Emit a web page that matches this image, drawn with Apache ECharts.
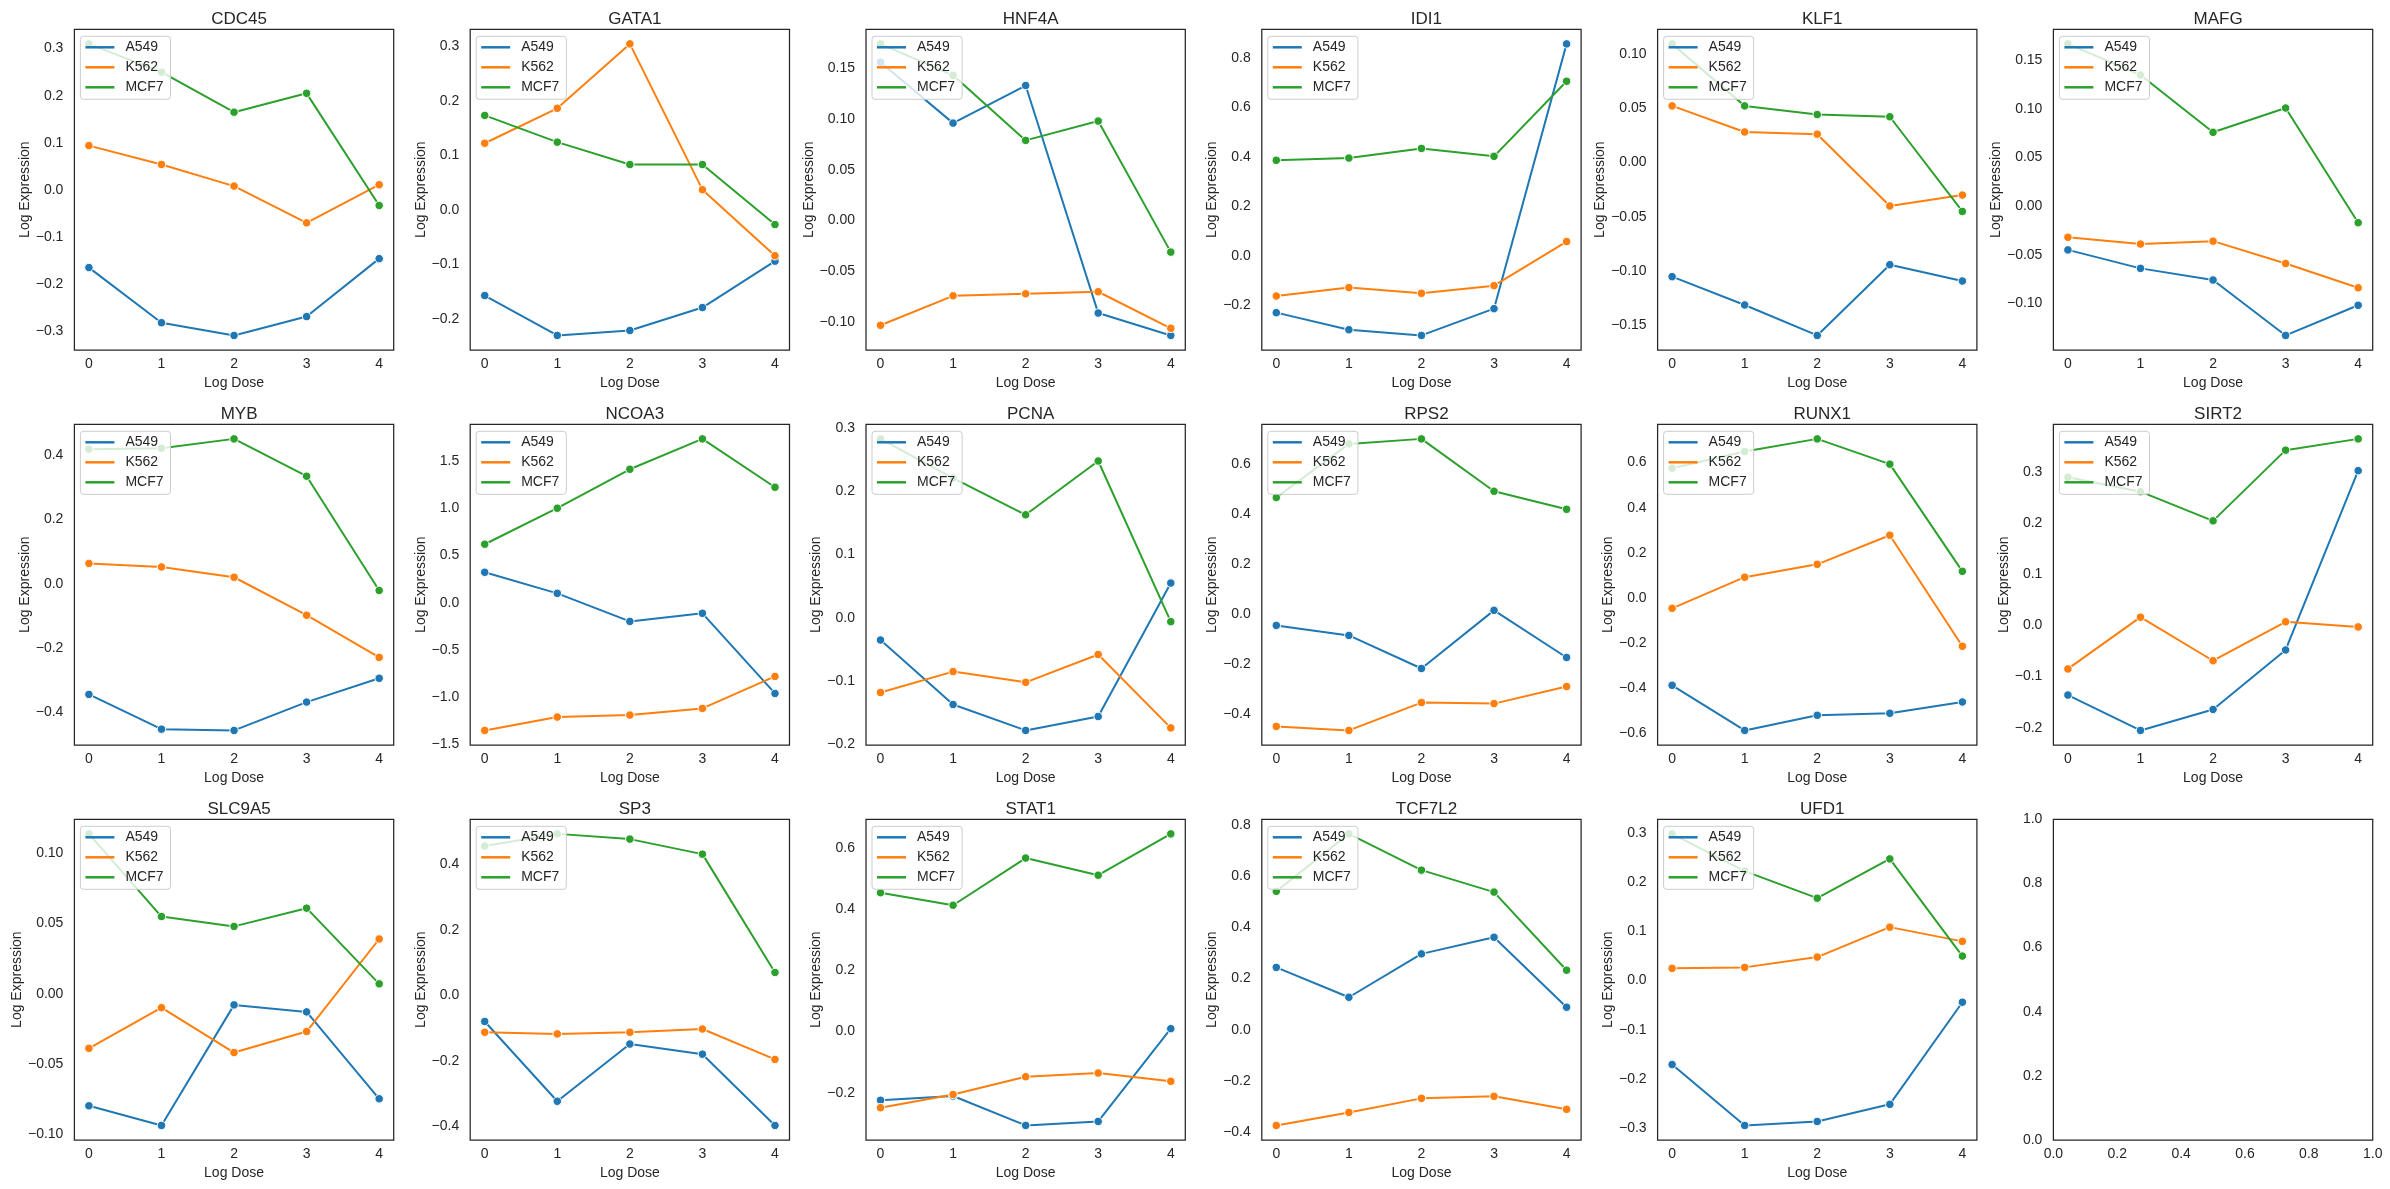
<!DOCTYPE html>
<html>
<head>
<meta charset="utf-8">
<script src="https://cdn.jsdelivr.net/npm/echarts@6/dist/echarts.min.js"></script>
<style>
  html, body { margin: 0; padding: 0; background: #ffffff; }
  #chart { width: 2390px; height: 1189px; }
</style>
</head>
<body>
<div id="chart"></div>
<script>
// ---------------- DATA ----------------
const doses = [0, 1, 2, 3, 4];
const cellLines = ['A549', 'K562', 'MCF7'];
const genes = ['CDC45', 'GATA1', 'HNF4A', 'IDI1', 'KLF1', 'MAFG',
               'MYB', 'NCOA3', 'PCNA', 'RPS2', 'RUNX1', 'SIRT2',
               'SLC9A5', 'SP3', 'STAT1', 'TCF7L2', 'UFD1'];

// log expression per gene (same order as genes), values at doses 0..4
const A549 = [
  [-0.165, -0.282, -0.309, -0.269, -0.146], // CDC45
  [-0.157, -0.230, -0.221, -0.179, -0.094], // GATA1
  [ 0.156,  0.096,  0.133, -0.091, -0.113], // HNF4A
  [-0.229, -0.298, -0.321, -0.213,  0.856], // IDI1
  [-0.105, -0.131, -0.159, -0.094, -0.109], // KLF1
  [-0.045, -0.064, -0.076, -0.133, -0.102], // MAFG
  [-0.344, -0.452, -0.456, -0.368, -0.294], // MYB
  [ 0.323,  0.099, -0.199, -0.113, -0.965], // NCOA3
  [-0.035, -0.137, -0.178, -0.156,  0.055], // PCNA
  [-0.044, -0.084, -0.216,  0.016, -0.172], // RPS2
  [-0.387, -0.587, -0.520, -0.511, -0.461], // RUNX1
  [-0.136, -0.205, -0.164, -0.048,  0.302], // SIRT2
  [-0.080, -0.094, -0.008, -0.013, -0.075], // SLC9A5
  [-0.080, -0.324, -0.149, -0.180, -0.398], // SP3
  [-0.225, -0.211, -0.307, -0.294,  0.009], // STAT1
  [ 0.244,  0.127,  0.297,  0.362,  0.088], // TCF7L2
  [-0.171, -0.295, -0.287, -0.252, -0.044]  // UFD1
];
const K562 = [
  [ 0.094,  0.054,  0.008, -0.070,  0.011],
  [ 0.122,  0.186,  0.304,  0.037, -0.084],
  [-0.103, -0.074, -0.072, -0.070, -0.106],
  [-0.162, -0.128, -0.151, -0.120,  0.058],
  [ 0.052,  0.028,  0.026, -0.040, -0.030],
  [-0.032, -0.039, -0.036, -0.059, -0.084],
  [ 0.063,  0.052,  0.020, -0.098, -0.229],
  [-1.358, -1.216, -1.195, -1.124, -0.784],
  [-0.118, -0.085, -0.102, -0.058, -0.174],
  [-0.447, -0.463, -0.352, -0.356, -0.288],
  [-0.046,  0.092,  0.149,  0.278, -0.214],
  [-0.085,  0.016, -0.069,  0.007, -0.003],
  [-0.039, -0.010, -0.042, -0.027,  0.039],
  [-0.113, -0.118, -0.113, -0.103, -0.196],
  [-0.249, -0.206, -0.148, -0.136, -0.163],
  [-0.375, -0.324, -0.269, -0.261, -0.312],
  [ 0.025,  0.027,  0.048,  0.109,  0.080]
];
const MCF7 = [
  [ 0.310,  0.250,  0.165,  0.205, -0.033],
  [ 0.173,  0.124,  0.083,  0.083, -0.027],
  [ 0.174,  0.143,  0.079,  0.098, -0.031],
  [ 0.386,  0.395,  0.434,  0.402,  0.705],
  [ 0.109,  0.052,  0.044,  0.042, -0.045],
  [ 0.167,  0.135,  0.076,  0.101, -0.017],
  [ 0.418,  0.421,  0.450,  0.334, -0.021],
  [ 0.621,  1.004,  1.418,  1.741,  1.227],
  [ 0.283,  0.221,  0.163,  0.248, -0.006],
  [ 0.466,  0.680,  0.700,  0.491,  0.419],
  [ 0.575,  0.649,  0.705,  0.593,  0.118],
  [ 0.289,  0.261,  0.204,  0.342,  0.364],
  [ 0.114,  0.055,  0.048,  0.061,  0.007],
  [ 0.457,  0.494,  0.478,  0.432,  0.070],
  [ 0.453,  0.412,  0.566,  0.510,  0.645],
  [ 0.542,  0.767,  0.625,  0.539,  0.233],
  [ 0.299,  0.223,  0.168,  0.248,  0.050]
];

// y tick labels per gene
const yTicks = [
  ['-0.3', '-0.2', '-0.1', '0.0', '0.1', '0.2', '0.3'],
  ['-0.2', '-0.1', '0.0', '0.1', '0.2', '0.3'],
  ['-0.10', '-0.05', '0.00', '0.05', '0.10', '0.15'],
  ['-0.2', '0.0', '0.2', '0.4', '0.6', '0.8'],
  ['-0.15', '-0.10', '-0.05', '0.00', '0.05', '0.10'],
  ['-0.10', '-0.05', '0.00', '0.05', '0.10', '0.15'],
  ['-0.4', '-0.2', '0.0', '0.2', '0.4'],
  ['-1.5', '-1.0', '-0.5', '0.0', '0.5', '1.0', '1.5'],
  ['-0.2', '-0.1', '0.0', '0.1', '0.2', '0.3'],
  ['-0.4', '-0.2', '0.0', '0.2', '0.4', '0.6'],
  ['-0.6', '-0.4', '-0.2', '0.0', '0.2', '0.4', '0.6'],
  ['-0.2', '-0.1', '0.0', '0.1', '0.2', '0.3'],
  ['-0.10', '-0.05', '0.00', '0.05', '0.10'],
  ['-0.4', '-0.2', '0.0', '0.2', '0.4'],
  ['-0.2', '0.0', '0.2', '0.4', '0.6'],
  ['-0.4', '-0.2', '0.0', '0.2', '0.4', '0.6', '0.8'],
  ['-0.3', '-0.2', '-0.1', '0.0', '0.1', '0.2', '0.3']
];
const xTickLabels = ['0', '1', '2', '3', '4'];
const emptyTicks = ['0.0', '0.2', '0.4', '0.6', '0.8', '1.0'];

// ---------------- STYLE / LAYOUT ----------------
const colors = { A549: '#1f77b4', K562: '#ff7f0e', MCF7: '#2ca02c' };
const seriesData = { A549: A549, K562: K562, MCF7: MCF7 };
const FONT = '"Liberation Sans", Arial, sans-serif';
const TXT = '#262626';
const LEFT0 = 74.4, PITCH_X = 395.8, GW = 319.3;
const TOP0 = 29.3, PITCH_Y = 395, GH = 320.7;

const cv = document.createElement('canvas').getContext('2d');
cv.font = '14px "Liberation Sans", Arial, sans-serif';
const minus = s => s.replace('-', '\u2212');

function fmtFactory(labels) {
  const dec = (labels[0].split('.')[1] || '').length;
  return v => {
    let s = Number(v).toFixed(dec);
    if (Math.abs(Number(v)) < 1e-12) s = (0).toFixed(dec);
    return minus(s);
  };
}

const grids = [], xAxes = [], yAxes = [], series = [], titles = [], legends = [];

for (let i = 0; i < 18; i++) {
  const col = i % 6, row = Math.floor(i / 6);
  const gl = LEFT0 + col * PITCH_X;
  const gt = TOP0 + row * PITCH_Y;
  grids.push({
    left: gl, top: gt, width: GW, height: GH,
    show: true, borderColor: TXT, borderWidth: 1.25, backgroundColor: '#ffffff'
  });

  const labelStyle = { fontSize: 14, color: TXT, fontFamily: FONT };

  if (i >= genes.length) {
    // empty panel: axes from 0 to 1
    const f = fmtFactory(emptyTicks);
    const step = parseFloat(emptyTicks[1]) - parseFloat(emptyTicks[0]);
    xAxes.push({
      gridIndex: i, type: 'value', min: 0, max: 1, interval: step,
      axisLine: { show: false }, axisTick: { show: false }, splitLine: { show: false },
      axisLabel: Object.assign({ formatter: f, margin: 7, hideOverlap: false, showMinLabel: true, showMaxLabel: true }, labelStyle)
    });
    yAxes.push({
      gridIndex: i, type: 'value', min: 0, max: 1, interval: step,
      axisLine: { show: false }, axisTick: { show: false }, splitLine: { show: false },
      axisLabel: Object.assign({ formatter: f, margin: 11, showMinLabel: true, showMaxLabel: true }, labelStyle)
    });
    continue;
  }

  const g = genes[i];
  const all = [].concat(A549[i], K562[i], MCF7[i]);
  const dmin = Math.min.apply(null, all), dmax = Math.max.apply(null, all);
  const pad = 0.05 * (dmax - dmin);
  const ymin = dmin - pad, ymax = dmax + pad;
  const tickVals = yTicks[i].map(parseFloat).filter(v => v >= ymin - 1e-9 && v <= ymax + 1e-9);
  const yfmt = fmtFactory(yTicks[i]);
  let maxW = 0;
  tickVals.forEach(v => { maxW = Math.max(maxW, cv.measureText(yfmt(v)).width); });

  xAxes.push({
    gridIndex: i, type: 'value', min: -0.2, max: 4.2,
    axisLine: { show: false }, axisTick: { show: false }, splitLine: { show: false },
    axisLabel: Object.assign({
      customValues: doses,
      formatter: v => xTickLabels[doses.indexOf(Math.round(v))] || '',
      margin: 7
    }, labelStyle),
    name: 'Log Dose', nameLocation: 'middle', nameGap: 26,
    nameTextStyle: { fontSize: 14, color: TXT, fontFamily: FONT }
  });
  yAxes.push({
    gridIndex: i, type: 'value', min: ymin, max: ymax,
    axisLine: { show: false }, axisTick: { show: false }, splitLine: { show: false },
    axisLabel: Object.assign({ customValues: tickVals, formatter: yfmt, margin: 11 }, labelStyle),
    name: 'Log Expression', nameLocation: 'middle', nameGap: maxW + 14,
    nameTextStyle: { fontSize: 14, color: TXT, fontFamily: FONT }
  });

  titles.push({
    text: g, left: gl + GW / 2, top: gt - 23, textAlign: 'center',
    textStyle: { fontSize: 17, fontWeight: 'normal', color: TXT, fontFamily: FONT }
  });

  cellLines.forEach(cl => {
    series.push({
      type: 'line', name: cl, xAxisIndex: i, yAxisIndex: i,
      data: doses.map((d, k) => [d, seriesData[cl][i][k]]),
      symbol: 'circle', symbolSize: 8.5, showSymbol: true,
      lineStyle: { width: 2, color: colors[cl] },
      itemStyle: { color: colors[cl], borderColor: '#ffffff', borderWidth: 1 },
      emphasis: { disabled: true },
      animation: false
    });
  });

  legends.push({
    orient: 'vertical', left: gl + 6, top: gt + 7,
    data: cellLines, icon: 'rect', itemWidth: 29, itemHeight: 2.5, itemGap: 6,
    padding: [4, 7, 5, 5],
    backgroundColor: 'rgba(255,255,255,0.8)', borderColor: '#cccccc', borderWidth: 1, borderRadius: 3,
    textStyle: { fontSize: 14, color: TXT, fontFamily: FONT, padding: [0, 0, 0, 6] },
    itemStyle: { borderWidth: 0 },
    selectedMode: false
  });
}

const chart = echarts.init(document.getElementById('chart'), null, { renderer: 'canvas', width: 2390, height: 1189 });
chart.setOption({
  backgroundColor: '#ffffff',
  animation: false,
  title: titles,
  legend: legends,
  grid: grids,
  xAxis: xAxes,
  yAxis: yAxes,
  series: series
});
</script>
</body>
</html>
